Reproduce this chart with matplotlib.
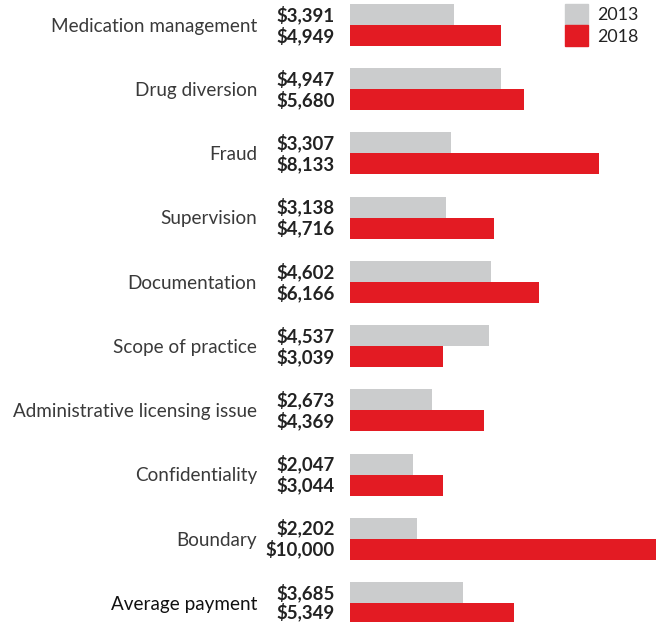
import matplotlib.pyplot as plt
from matplotlib.patches import Rectangle

categories = ["Medication management", "Drug diversion", "Fraud", "Supervision",
              "Documentation", "Scope of practice", "Administrative licensing issue",
              "Confidentiality", "Boundary", "Average payment"]
vals_2013 = [3391, 4947, 3307, 3138, 4602, 4537, 2673, 2047, 2202, 3685]
vals_2018 = [4949, 5680, 8133, 4716, 6166, 3039, 4369, 3044, 10000, 5349]

GRAY = "#cbcccd"
RED = "#e31b23"
FONT = "Lato"

W, H = 660, 622
fig = plt.figure(figsize=(W / 100, H / 100), dpi=100)
ax = fig.add_axes([350 / W, 0, 1 - 350 / W, 1])

step = (603 - 25) / 9.0
h = 21 / step
y = list(range(len(categories)))
ax.barh([v - h / 2 for v in y], vals_2013, height=h, color=GRAY)
ax.barh([v + h / 2 for v in y], vals_2018, height=h, color=RED)

ax.set_xlim(0, 10000 * (660 - 350) / (656 - 350))
ax.set_ylim(9 + (622 - 603) / step, -25 / step)
ax.axis("off")

px = 10000 / 306
for i, cat in enumerate(categories):
    ax.text(-93 * px, i + 0.02, cat, ha="right", va="center", fontsize=13.6,
            family=FONT, color="#3a3a3a" if i < 9 else "#111111")
    ax.text(-15 * px, i - h / 2, f"${vals_2013[i]:,}", ha="right", va="center",
            fontsize=13.4, family=FONT, fontweight="bold", color="#222222")
    ax.text(-15 * px, i + h / 2 - (0.02 if i == 9 else 0), f"${vals_2018[i]:,}",
            ha="right", va="center",
            fontsize=13.4, family=FONT, fontweight="bold", color="#222222")

# legend
for j, (lab, col) in enumerate([("2013", GRAY), ("2018", RED)]):
    top = 4 + j * 21
    fig.patches.append(Rectangle((565 / W, 1 - (top + 21) / H), 23 / W, 21 / H,
                                 transform=fig.transFigure, color=col))
    fig.text(597 / W, 1 - (top + 11.5) / H, lab, ha="left", va="center",
             fontsize=12.8, family=FONT, color="#222222")

fig.savefig("out.png", dpi=100)
